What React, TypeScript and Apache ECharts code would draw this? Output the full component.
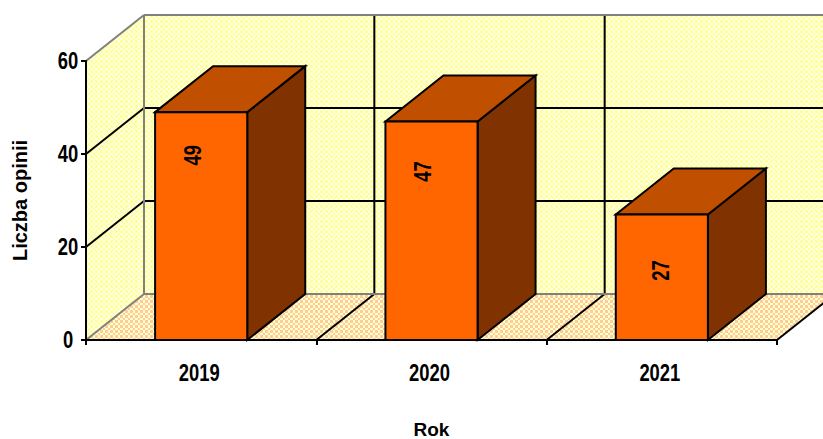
import React, { useEffect, useRef } from "react";
import * as echarts from "echarts";

const categories = ["2019", "2020", "2021"];
const values = [49, 47, 27];
const yTicks = [0, 20, 40, 60];
const xAxisTitle = "Rok";
const yAxisTitle = "Liczba opinii";

const DEPTH_X = 58;
const DEPTH_Y = 46;
const BAR_RATIO = 0.4;
const FONT = "'Liberation Sans', Arial, sans-serif";
const NARROW = 0.8;
// offset of each rotated value label from the top centre of its bar's front face
const LABEL_SHIFT: [number, number][] = [[-8, 43], [-9, 50], [-1, 56]];

function checker(a: string, b: string) {
  const c = document.createElement("canvas");
  c.width = 5;
  c.height = 5;
  const g = c.getContext("2d")!;
  g.fillStyle = a;
  g.fillRect(0, 0, 5, 5);
  g.fillStyle = b;
  g.fillRect(0, 0, 3, 3);
  g.fillRect(3, 3, 2, 2);
  return { image: c, repeat: "repeat", imageWidth: 5, imageHeight: 5 } as any;
}

export default function App() {
  const ref = useRef<HTMLDivElement>(null);
  useEffect(() => {
    const chart = echarts.init(ref.current!, undefined, { renderer: "svg" });
    const wallFill = checker("#ffffe6", "#ffff99");
    const floorFill = checker("#ffffcc", "#ffcc99");
    const GRAY = "#808080";

    const line = (x1: number, y1: number, x2: number, y2: number, stroke: string, z2 = 1) => ({
      type: "line",
      z2,
      shape: { x1, y1, x2, y2 },
      style: { stroke, lineWidth: 2, fill: "none" },
    });
    const poly = (points: number[][], fill: any, stroke = "none", lineWidth = 0) => ({
      type: "polygon",
      shape: { points },
      style: { fill, stroke, lineWidth, lineJoin: "miter" },
    });
    const label = (text: string, x: number, y: number, rotation = 0) => ({
      type: "text",
      x,
      y,
      rotation,
      scaleX: NARROW,
      z2: 5,
      style: {
        text,
        fill: "#000",
        font: `bold 23px ${FONT}`,
        align: "center",
        verticalAlign: "middle",
      },
    });

    const renderWalls = (params: any, api: any) => {
      const cs = params.coordSys;
      const x0 = cs.x, x1 = cs.x + cs.width, yB = cs.y + cs.height, yT = cs.y;
      const dx = DEPTH_X, dy = DEPTH_Y;
      const children: any[] = [
        poly([[x0 + dx, yT - dy], [x1 + dx, yT - dy], [x1 + dx, yB - dy], [x0 + dx, yB - dy]], wallFill),
        poly([[x0, yT], [x0 + dx, yT - dy], [x0 + dx, yB - dy], [x0, yB]], wallFill),
        poly([[x0, yB], [x0 + dx, yB - dy], [x1 + dx, yB - dy], [x1, yB]], floorFill),
      ];
      yTicks.slice(1, -1).forEach((t) => {
        const y = api.coord([0, t])[1];
        children.push(line(x0, y, x0 + dx, y - dy, "#000"));
        children.push(line(x0 + dx, y - dy, x1 + dx, y - dy, "#000"));
      });
      const step = cs.width / categories.length;
      for (let i = 1; i <= categories.length; i++) {
        const x = x0 + i * step;
        children.push(line(x, yB, x + dx, yB - dy, "#000"));
        if (i < categories.length) children.push(line(x + dx, yT - dy, x + dx, yB - dy, "#000"));
      }
      children.push(line(x0 + dx, yT - dy, x1 + dx, yT - dy, GRAY, 2));
      children.push(line(x0 + dx, yB - dy, x1 + dx, yB - dy, GRAY, 2));
      children.push(line(x0 + dx, yT - dy, x0 + dx, yB - dy, GRAY, 2));
      children.push(line(x0, yT, x0 + dx, yT - dy, GRAY, 2));
      children.push(line(x0, yB, x0 + dx, yB - dy, GRAY, 2));
      yTicks.forEach((t) => {
        children.push(label(String(t), x0 - 18, api.coord([0, t])[1]));
      });
      categories.forEach((c, i) => {
        children.push(label(c, api.coord([i, 0])[0] - 2, yB + 33));
      });
      return { type: "group", children };
    };

    const renderBar = (params: any, api: any) => {
      const idx = api.value(0);
      const v = api.value(1);
      const top = api.coord([idx, v]);
      const base = api.coord([idx, 0]);
      const w = api.size([1, 0])[0] * BAR_RATIO;
      const l = top[0] - w / 2, r = top[0] + w / 2, t = top[1], b = base[1];
      const dx = DEPTH_X, dy = DEPTH_Y;
      const stroke = "#000";
      const [sx, sy] = LABEL_SHIFT[params.dataIndex];
      return {
        type: "group",
        children: [
          poly([[r, t], [r + dx, t - dy], [r + dx, b - dy], [r, b]], "#803300", stroke, 2),
          poly([[l, t], [l + dx, t - dy], [r + dx, t - dy], [r, t]], "#c04f00", stroke, 2),
          poly([[l, t], [r, t], [r, b], [l, b]], "#ff6600", stroke, 2),
          label(String(v), top[0] + sx, t + sy, Math.PI / 2),
        ],
      };
    };

    chart.setOption({
      animation: false,
      backgroundColor: "#ffffff",
      grid: { left: 86, top: 61, width: 691, height: 279, containLabel: false, outerBoundsMode: "none" },
      xAxis: {
        type: "category",
        data: categories,
        z: 5,
        name: xAxisTitle,
        nameLocation: "middle",
        nameGap: 80,
        nameTextStyle: { fontFamily: FONT, fontWeight: "bold", fontSize: 19, color: "#000" },
        axisLine: { lineStyle: { color: "#000", width: 2 } },
        axisTick: { show: true, length: 5, alignWithLabel: false, lineStyle: { color: "#000", width: 2 } },
        axisLabel: { show: false },
        splitLine: { show: false },
      },
      yAxis: {
        type: "value",
        min: 0,
        max: 60,
        interval: 20,
        z: 5,
        name: yAxisTitle,
        nameLocation: "middle",
        nameGap: 56,
        nameTextStyle: { fontFamily: FONT, fontWeight: "bold", fontSize: 20, color: "#000" },
        axisLine: { show: true, lineStyle: { color: "#000", width: 2 } },
        axisTick: { show: true, length: 5, lineStyle: { color: "#000", width: 2 } },
        axisLabel: { show: false },
        splitLine: { show: false },
      },
      series: [
        { type: "custom", z: 1, silent: true, clip: false, renderItem: renderWalls, data: [[0, 0]] },
        {
          type: "custom",
          z: 2,
          clip: false,
          renderItem: renderBar,
          encode: { x: 0, y: 1 },
          data: values.map((v, i) => [i, v]),
        },
      ],
    });
    return () => chart.dispose();
  }, []);
  return <div ref={ref} style={{ position: "fixed", left: 0, top: 0, width: 823, height: 439 }} />;
}
